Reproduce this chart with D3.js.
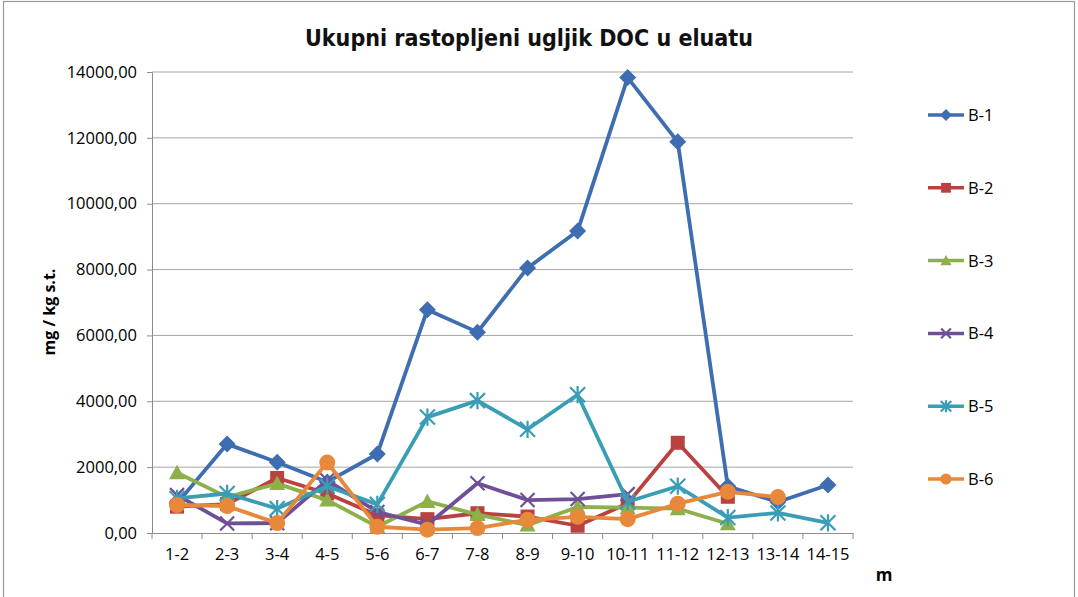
<!DOCTYPE html>
<html><head><meta charset="utf-8">
<script src="https://cdn.jsdelivr.net/npm/d3@7"></script>
<style>body{margin:0;background:#fff}svg{display:block}</style>
</head><body>
<svg id="c" width="1078" height="597"></svg>
<script>
const categories = ["1-2","2-3","3-4","4-5","5-6","6-7","7-8","8-9","9-10","10-11","11-12","12-13","13-14","14-15"];
const seriesNames = ["B-1","B-2","B-3","B-4","B-5","B-6"];
const b1 = [900, 2700, 2150, 1550, 2400, 6780, 6100, 8050, 9170, 13830, 11880, 1420, 940, 1460];
const b2 = [800, 880, 1670, 1200, 540, 420, 600, 500, 220, 900, 2740, 1100, null, null];
const b3 = [1830, 1090, 1500, 1000, 190, 960, 560, 240, 790, 770, 740, 280, null, null];
const b4 = [1150, 290, 300, 1600, 640, 250, 1510, 1000, 1030, 1180, null, null, null, null];
const b5 = [1050, 1200, 740, 1420, 870, 3520, 4020, 3150, 4200, 950, 1420, 470, 610, 310];
const b6 = [850, 820, 300, 2140, 190, 100, 150, 400, 490, 420, 890, 1250, 1090, null];
const yTicks = [0,2000,4000,6000,8000,10000,12000,14000];
const colors = ["#3F6DB1","#B9413F","#8DB04A","#6F4F95","#3A9DB6","#E8883A"];
const markers = ["diamond","square","triangle","x","star","circle"];
const allSeries = [b1,b2,b3,b4,b5,b6];

const svg = d3.select("#c");
const L=152, R=853, T=72, B=533;
svg.append("rect").attr("x",3.5).attr("y",1.5).attr("width",1071).attr("height",620)
  .attr("fill","none").attr("stroke","#9a9a9a").attr("stroke-width",1.2);

const x = d3.scaleBand().domain(categories).range([L,R]);
const y = d3.scaleLinear().domain([0,14000]).range([B,T]);

// gridlines
svg.append("g").selectAll("line").data(yTicks.filter(d=>d>0)).join("line")
  .attr("x1",L).attr("x2",R).attr("y1",d=>y(d)).attr("y2",d=>y(d))
  .attr("stroke","#a6a6a6").attr("stroke-width",1);

// y axis
const ya = svg.append("g").attr("transform",`translate(${L},0)`)
  .call(d3.axisLeft(y).tickValues(yTicks).tickSize(5).tickPadding(10)
    .tickFormat(d=>d3.format(".2f")(d).replace(".",",")));
ya.select(".domain").attr("stroke","#8c8c8c");
ya.selectAll(".tick line").attr("stroke","#8c8c8c");
ya.selectAll("text").attr("font-family","Open Sans").attr("font-size",16.5).attr("fill","#000");

// x axis
const xa = svg.append("g").attr("transform",`translate(0,${B})`)
  .call(d3.axisBottom(x).tickSize(0).tickPadding(15));
xa.select(".domain").attr("stroke","#8c8c8c");
xa.selectAll("text").attr("font-family","Open Sans").attr("font-size",16.5).attr("fill","#000");
// boundary ticks
const bounds = categories.map(c=>x(c)).concat([R]);
svg.append("g").selectAll("line").data(bounds).join("line")
  .attr("x1",d=>d).attr("x2",d=>d).attr("y1",B).attr("y2",B+6).attr("stroke","#8c8c8c");

// titles
svg.append("text").attr("x",529).attr("y",46).attr("text-anchor","middle")
  .attr("font-family","DejaVu Sans Condensed").attr("font-weight","bold").attr("font-size",23)
  .attr("textLength",448).attr("lengthAdjust","spacingAndGlyphs").attr("fill","#111")
  .text("Ukupni rastopljeni ugljik DOC u eluatu");
svg.append("text").attr("transform","translate(55,312) rotate(-90)").attr("text-anchor","middle")
  .attr("font-family","Open Sans").attr("font-weight","bold").attr("font-size",16).attr("fill","#000")
  .text("mg / kg s.t.");
svg.append("text").attr("x",884).attr("y",581).attr("text-anchor","middle")
  .attr("font-family","Open Sans").attr("font-weight","bold").attr("font-size",17).attr("fill","#000")
  .text("m");

function drawMarker(g, type, cx, cy, col, s){
  if(type==="diamond"){
    g.append("path").attr("d",`M${cx},${cy-8.5*s}L${cx+8.5*s},${cy}L${cx},${cy+8.5*s}L${cx-8.5*s},${cy}Z`).attr("fill",col);
  } else if(type==="square"){
    g.append("rect").attr("x",cx-7*s).attr("y",cy-7*s).attr("width",14*s).attr("height",14*s).attr("fill",col);
  } else if(type==="triangle"){
    g.append("path").attr("d",`M${cx},${cy-8*s}L${cx+8*s},${cy+6.5*s}L${cx-8*s},${cy+6.5*s}Z`).attr("fill",col);
  } else if(type==="x"){
    const r=7*s;
    g.append("path").attr("d",`M${cx-r},${cy-r}L${cx+r},${cy+r}M${cx-r},${cy+r}L${cx+r},${cy-r}`)
      .attr("stroke",col).attr("stroke-width",2.2).attr("fill","none");
  } else if(type==="star"){
    const r=7.5*s;
    g.append("path").attr("d",`M${cx-r},${cy-r}L${cx+r},${cy+r}M${cx-r},${cy+r}L${cx+r},${cy-r}M${cx},${cy-r*1.15}L${cx},${cy+r*1.15}`)
      .attr("stroke",col).attr("stroke-width",2.2).attr("fill","none");
  } else {
    g.append("circle").attr("cx",cx).attr("cy",cy).attr("r",8*s).attr("fill",col);
  }
}

const line = d3.line().defined(d=>d.v!=null).x(d=>x(d.c)+x.bandwidth()/2).y(d=>y(d.v));
allSeries.forEach((vals,i)=>{
  const g = svg.append("g");
  const data = vals.map((v,j)=>({c:categories[j],v}));
  g.append("path").datum(data).attr("d",line).attr("fill","none")
    .attr("stroke",colors[i]).attr("stroke-width",3.8).attr("stroke-linejoin","round");
  data.filter(d=>d.v!=null).forEach(d=>drawMarker(g,markers[i],x(d.c)+x.bandwidth()/2,y(d.v),colors[i],1));
});

// legend
const legY = d3.scalePoint().domain(seriesNames).range([115,479]);
seriesNames.forEach((n,i)=>{
  const g = svg.append("g");
  const yy = legY(n);
  g.append("line").attr("x1",928).attr("x2",964).attr("y1",yy).attr("y2",yy)
    .attr("stroke",colors[i]).attr("stroke-width",3.5);
  drawMarker(g,markers[i],946,yy,colors[i],0.7);
  g.append("text").attr("x",968).attr("y",yy+6).attr("font-family","Open Sans")
    .attr("font-size",16.5).attr("fill","#000").text(n);
});
</script>
</body></html>
